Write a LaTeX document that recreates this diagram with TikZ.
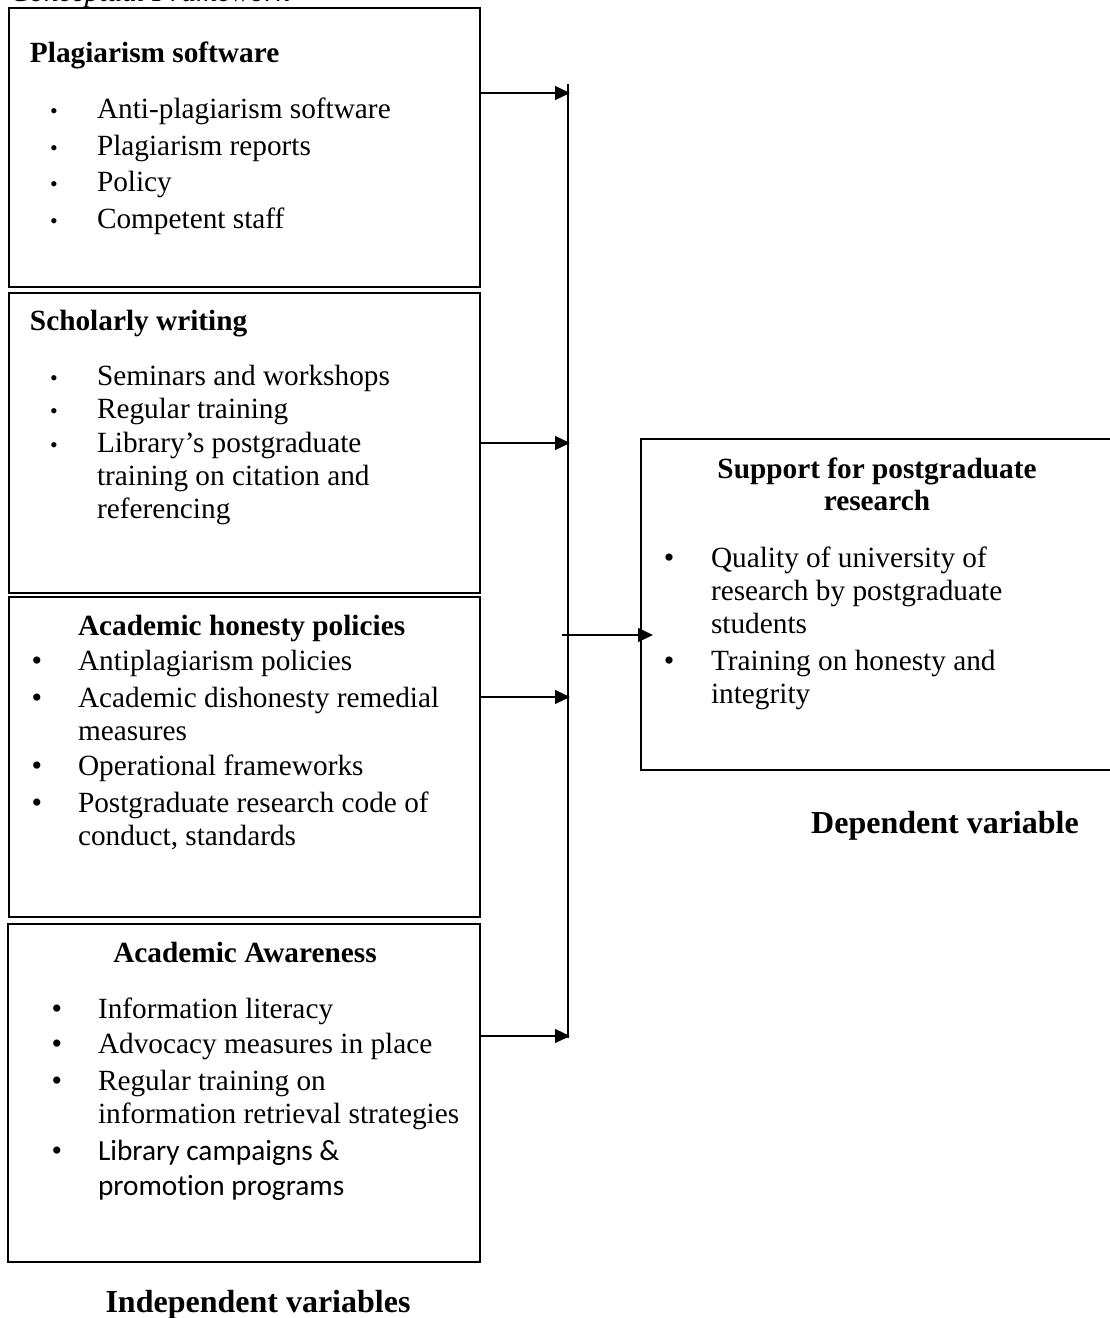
\documentclass[tikz,border=0pt]{standalone}
\usepackage{fontspec}
\setmainfont{Liberation Serif}
\newfontfamily\calib[Ligatures=NoCommon]{Carlito}
\usetikzlibrary{arrows.meta}
\begin{document}
\begin{tikzpicture}[x=1pt,y=-1pt,
  box/.style={draw=black,line width=2.2pt,rectangle,inner sep=0pt,outer sep=0pt,anchor=north west},
  txt/.style={inner sep=0pt,outer sep=0pt,anchor=base west,font=\fontsize{29.3}{33.3}\selectfont},
  ttl/.style={txt,font=\fontsize{29.3}{33.3}\selectfont\bfseries},
  ctl/.style={ttl,anchor=base},
  lab/.style={inner sep=0pt,anchor=base,font=\fontsize{32}{36}\selectfont\bfseries},
  sb/.style={inner sep=0pt,anchor=base,font=\fontsize{22}{24}\selectfont},
  bb/.style={inner sep=0pt,anchor=base,font=\fontsize{30}{33}\selectfont},
  arr/.style={draw=black,line width=1.2pt,-{Triangle[length=15pt,width=14pt]}},
  bus/.style={draw=black,line width=1.2pt}]
\useasboundingbox (0,0) rectangle (1110,1318);
\clip (0,0) rectangle (1110,1318);

\node[txt,font=\fontsize{29.3}{33.3}\selectfont\itshape] (cap) at (10,1.5) {Conceptual Framework};

% boxes
\node[box,minimum width=471pt,minimum height=279pt] (box1) at (9,8) {};
\node[box,minimum width=471pt,minimum height=300pt] (box2) at (9,293) {};
\node[box,minimum width=471pt,minimum height=320pt] (box3) at (9,597) {};
\node[box,minimum width=472pt,minimum height=338pt] (box4) at (8,924) {};
\node[box,minimum width=480pt,minimum height=331pt] (dep) at (641,439) {};

% box 1
\node[ttl] (t1) at (30,62) {Plagiarism software};
\node[sb] (b11) at (54,118) {•}; \node[txt] (l11) at (97,118) {Anti-plagiarism software};
\node[sb] (b12) at (54,155) {•}; \node[txt] (l12) at (97,155) {Plagiarism reports};
\node[sb] (b13) at (54,191) {•}; \node[txt] (l13) at (97,191) {Policy};
\node[sb] (b14) at (54,228) {•}; \node[txt] (l14) at (97,228) {Competent staff};

% box 2
\node[ttl] (t2) at (30,330) {Scholarly writing};
\node[sb] (b21) at (54,385) {•}; \node[txt] (l21) at (97,385) {Seminars and workshops};
\node[sb] (b22) at (54,418) {•}; \node[txt] (l22) at (97,418) {Regular training};
\node[sb] (b23) at (54,452) {•}; \node[txt] (l23) at (97,452) {Library’s postgraduate};
\node[txt] (l24) at (97,485) {training on citation and};
\node[txt] (l25) at (97,518) {referencing};

% box 3
\node[ttl] (t3) at (78,635) {Academic honesty policies};
\node[bb] (b31) at (37,670) {•}; \node[txt] (l31) at (78,670) {Antiplagiarism policies};
\node[bb] (b32) at (37,707) {•}; \node[txt] (l32) at (78,707) {Academic dishonesty remedial};
\node[txt] (l33) at (78,740) {measures};
\node[bb] (b34) at (37,775) {•}; \node[txt] (l34) at (78,775) {Operational frameworks};
\node[bb] (b35) at (37,812) {•}; \node[txt] (l35) at (78,812) {Postgraduate research code of};
\node[txt] (l36) at (78,845) {conduct, standards};

% box 4
\node[ctl] (t4) at (245,962) {Academic Awareness};
\node[bb] (b41) at (57,1018) {•}; \node[txt] (l41) at (98,1018) {Information literacy};
\node[bb] (b42) at (57,1053) {•}; \node[txt] (l42) at (98,1053) {Advocacy measures in place};
\node[bb] (b43) at (57,1090) {•}; \node[txt] (l43) at (98,1090) {Regular training on};
\node[txt] (l44) at (98,1123) {information retrieval strategies};
\node[bb] (b45) at (57,1160) {•}; \node[txt,font=\fontsize{29.3}{33.3}\selectfont\calib] (l45) at (98,1160) {Library campaigns \&};
\node[txt,font=\fontsize{29.3}{33.3}\selectfont\calib] (l46) at (98,1195) {promotion programs};

% dependent box
\node[ctl] (t5a) at (877,478) {Support for postgraduate};
\node[ctl] (t5b) at (877,510) {research};
\node[bb] (b51) at (669,567) {•}; \node[txt] (l51) at (711,567) {Quality of university of};
\node[txt] (l52) at (711,600) {research by postgraduate};
\node[txt] (l53) at (711,633) {students};
\node[bb] (b54) at (669,670) {•}; \node[txt] (l54) at (711,670) {Training on honesty and};
\node[txt] (l55) at (711,703) {integrity};

% labels
\node[lab] (dv) at (945,833) {Dependent variable};
\node[lab] (iv) at (258,1312) {Independent variables};

% connectors
\coordinate (btop) at (568,84);
\coordinate (bbot) at (568,1038);
\coordinate (a1) at (570,93);
\coordinate (a2) at (570,443);
\coordinate (a3) at (570,697);
\coordinate (a4) at (570,1036);
\coordinate (m0) at (562,635);
\draw[bus] (btop) -- (bbot);
\draw[arr] (box1.east |- a1) -- (a1);
\draw[arr] (box2.east |- a2) -- (a2);
\draw[arr] (box3.east |- a3) -- (a3);
\draw[arr] (box4.east |- a4) -- (a4);
\draw[arr,shorten >=-12pt] (m0) -- (dep.west |- m0);
\end{tikzpicture}
\end{document}
